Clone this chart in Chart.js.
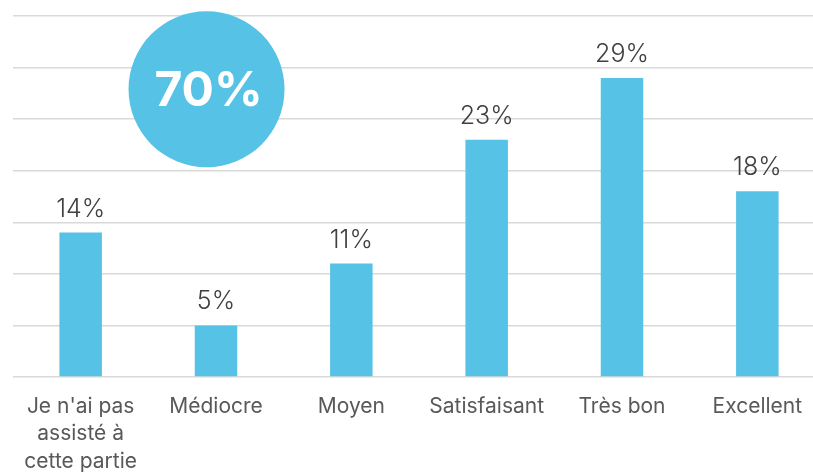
<!DOCTYPE html>
<html lang="fr">
<head>
    <meta charset="UTF-8">
    <title>Appréciation</title>
    <script src="https://cdn.jsdelivr.net/npm/chart.js"></script>
    <style>
        html, body { margin: 0; padding: 0; background: #fff; overflow: hidden; }
        #wrap { width: 830px; height: 472px; }
    </style>
</head>
<body>
    <div id="wrap"><canvas id="chart" width="830" height="472"></canvas></div>

    <script>
        // données
        const categories = [
            ["Je n'ai pas", "assisté à", "cette partie"],
            "Médiocre",
            "Moyen",
            "Satisfaisant",
            "Très bon",
            "Excellent"
        ];
        const values = [14, 5, 11, 23, 29, 18];
        const totalLabel = "70%";

        const blue = '#56C2E5';

        // étiquettes de valeur au-dessus des barres
        const valueLabels = {
            id: 'valueLabels',
            afterDatasetsDraw(chart) {
                const ctx = chart.ctx;
                const bars = chart.getDatasetMeta(0).data;
                ctx.save();
                ctx.fillStyle = '#404040';
                ctx.font = '300 25px Inter';
                ctx.textAlign = 'center';
                ctx.textBaseline = 'alphabetic';
                bars.forEach((bar, i) => {
                    ctx.fillText(values[i] + '%', bar.x, bar.y - 16);
                });
                ctx.restore();
            }
        };

        // pastille "70%"
        const bubble = {
            id: 'bubble',
            afterDraw(chart) {
                const ctx = chart.ctx;
                const x = chart.scales.x.getPixelForValue(0.93);
                const y = chart.scales.y.getPixelForValue(27.9);
                ctx.save();
                ctx.beginPath();
                ctx.arc(x, y, 78, 0, Math.PI * 2);
                ctx.fillStyle = blue;
                ctx.fill();
                ctx.fillStyle = '#fff';
                ctx.font = 'bold 48px Inter';
                ctx.textAlign = 'center';
                ctx.textBaseline = 'middle';
                ctx.fillText(totalLabel, x + 2, y + 2);
                ctx.restore();
            }
        };

        new Chart(document.getElementById('chart'), {
            type: 'bar',
            data: {
                labels: categories,
                datasets: [{
                    data: values,
                    backgroundColor: blue,
                    barPercentage: 0.314,
                    categoryPercentage: 1
                }]
            },
            options: {
                responsive: false,
                animation: false,
                layout: { padding: { left: 13, right: 5, top: 16, bottom: 0 } },
                plugins: {
                    legend: { display: false },
                    tooltip: { enabled: false }
                },
                scales: {
                    x: {
                        grid: { display: false, drawTicks: false },
                        border: { display: false },
                        ticks: {
                            color: '#595959',
                            font: { family: 'Inter', size: 21, lineHeight: 1.3 },
                            padding: 16,
                            maxRotation: 0,
                            autoSkip: false
                        },
                        afterFit(scale) { scale.height = 95; }
                    },
                    y: {
                        min: 0,
                        max: 35,
                        ticks: { display: false, stepSize: 5 },
                        grid: { color: '#D9D9D9', lineWidth: 1.5, drawTicks: false },
                        border: { display: false }
                    }
                }
            },
            plugins: [valueLabels, bubble]
        });
    </script>
</body>
</html>
